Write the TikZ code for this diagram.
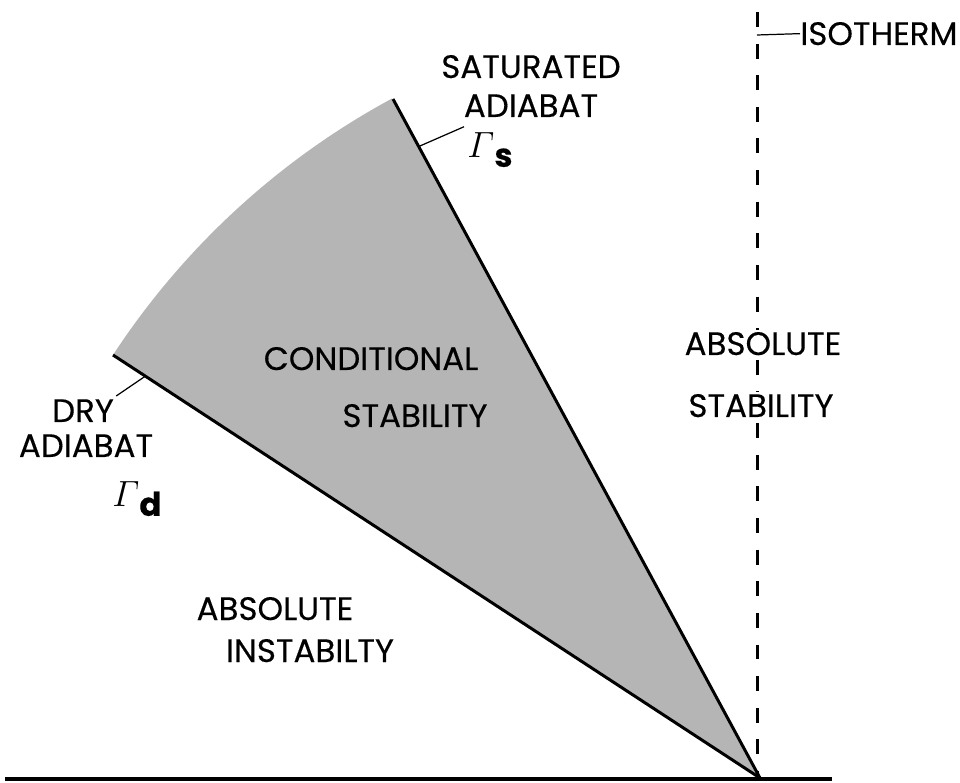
\documentclass[tikz,border=0pt]{standalone}
\usepackage{fontspec}
\setmainfont{Poppins}[FakeBold=0.3]
\usepackage{amsmath}
\usetikzlibrary{calc, positioning}

\begin{document}
\begin{tikzpicture}[x=0.02cm, y=-0.02cm,
      lbl/.style={inner sep=0pt, anchor=base, font=\fontsize{18.5}{22}\selectfont},
      gam/.style={inner sep=0pt, anchor=base west, font=\fontsize{21}{24}\selectfont},
      adiabat/.style={line width=1.7pt},
      leader/.style={line width=0.7pt},
      isoline/.style={line width=1.7pt, dash pattern=on 8.5pt off 9.5pt},
      sector/.style={fill=black!29}
    ]
    \useasboundingbox (0,0) rectangle (960,783);

    % Punkte
    \coordinate (apex)   at (760,778);
    \coordinate (dryend) at (113,355);
    \coordinate (satend) at (393,99);

    % Sektor
    \fill[sector] (apex) -- (dryend) arc[start angle=213.2, end angle=241.6, radius=772] -- cycle;
    \draw[adiabat] (apex) -- (dryend);
    \draw[adiabat] (apex) -- (satend);
    \draw[line width=1.8pt] (5,779) -- (832,779);
    \draw[isoline] (757,12) -- (757,778);

    % Beschriftungen
    \node[lbl, anchor=base west] (iso) at (800,45) {ISOTHERM};
    \draw[leader] (757,35) -- (iso.west);

    \node[lbl] (sat1) at (531,78)  {SATURATED};
    \node[lbl] (sat2) at (531,117) {ADIABAT};
    \node[gam] (gs) at (467,158) {$\varGamma$\raisebox{-5pt}{\fontsize{18.5}{22}\selectfont\textbf{s}}};
    \draw[leader] ($(satend)!0.07!(apex)$) -- ($(gs.north west)+(-3,-6)$);

    \node[lbl] (dry1) at (83,422) {DRY};
    \node[lbl] (dry2) at (86,457) {ADIABAT};
    \node[gam] (gd) at (112,507) {$\varGamma$\raisebox{-5pt}{\fontsize{18.5}{22}\selectfont\textbf{d}}};
    \draw[leader] ($(dryend)!0.05!(apex)$) -- ($(dry1.north east)+(2,-3)$);

    \node[lbl] (cond1) at (371,370) {CONDITIONAL};
    \node[lbl] (cond2) at (415,427) {STABILITY};

    \node[lbl, fill=white, inner sep=1pt] (stab1) at (763,355) {ABSOLUTE};
    \node[lbl, fill=white, inner sep=1pt] (stab2) at (761,417) {STABILITY};

    \node[lbl] (inst1) at (275,620) {ABSOLUTE};
    \node[lbl] (inst2) at (310,662) {INSTABILTY};
  \end{tikzpicture}
\end{document}
